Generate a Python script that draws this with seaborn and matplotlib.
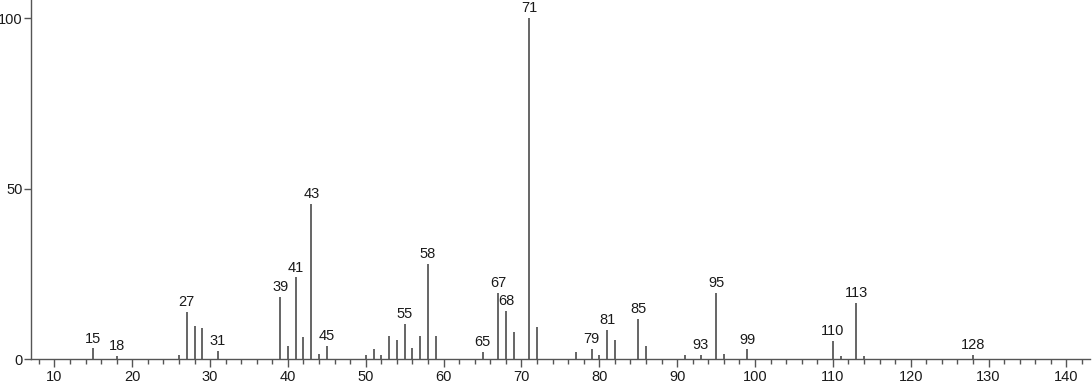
import numpy as np
import pandas as pd
import matplotlib
matplotlib.use('Agg')
import matplotlib.pyplot as plt
import seaborn as sns

# m/z and relative intensity
mz = [15, 18, 26, 27, 28, 29, 31, 39, 40, 41, 42, 43, 44, 45,
      50, 51, 52, 53, 54, 55, 56, 57, 58, 59, 65, 67, 68, 69, 71, 72,
      77, 79, 80, 81, 82, 85, 86, 91, 93, 95, 96, 99, 110, 111, 113, 114, 128]
intensity = [3.2, 1.1, 1.4, 13.9, 9.7, 9.2, 2.4, 18.2, 4.0, 24.0, 6.6, 45.5, 1.6, 3.9,
             1.2, 2.9, 1.2, 6.8, 5.6, 10.4, 3.2, 6.8, 28.0, 6.8, 2.1, 19.4, 14.1, 8.1, 100.0, 9.4,
             2.1, 3.0, 1.2, 8.6, 5.7, 11.9, 3.9, 1.2, 1.4, 19.5, 1.6, 2.9, 5.3, 1.1, 16.6, 1.1, 1.2]
labelled = [15, 18, 27, 31, 39, 41, 43, 45, 55, 58, 65, 67, 68, 71,
            79, 81, 85, 93, 95, 99, 110, 113, 128]

df = pd.DataFrame({'mz': mz, 'intensity': intensity})

sns.set_style('ticks')
plt.rcParams['font.family'] = ['Liberation Sans', 'DejaVu Sans']

fig = plt.figure(figsize=(10.92, 3.84), dpi=100)
ax = fig.add_axes([0.0284, 0.0643, 0.9696, 0.9357])

ax.vlines(df['mz'], 0, df['intensity'], color='#3c3c3c', lw=1.1)

for _, row in df.iterrows():
    if int(row['mz']) in labelled:
        ax.annotate(str(int(row['mz'])), (row['mz'], row['intensity']),
                    xytext=(0, 2), textcoords='offset points',
                    ha='center', va='bottom', fontsize=10.5, color='#1a1a1a')

ax.set_xlim(7, 143)
ax.set_ylim(0, 105.3)
ax.set_xticks(np.arange(10, 141, 10))
ax.set_xticks(np.arange(8, 143, 2), minor=True)
ax.set_yticks([0, 50, 100])

sns.despine(ax=ax)
for s in ['left', 'bottom']:
    ax.spines[s].set_color('#555555')
    ax.spines[s].set_linewidth(1.0)

ax.tick_params(axis='x', which='major', direction='out', length=6, width=1,
               color='#555555', labelsize=10.5, labelcolor='#1a1a1a', pad=2)
ax.tick_params(axis='x', which='minor', direction='out', length=3.5, width=1,
               color='#555555')
ax.tick_params(axis='y', which='major', direction='out', length=5, width=1,
               color='#555555', labelsize=10.5, labelcolor='#1a1a1a', pad=1)
ax.set_xlabel('')
ax.set_ylabel('')

fig.savefig('out.png', dpi=100)
